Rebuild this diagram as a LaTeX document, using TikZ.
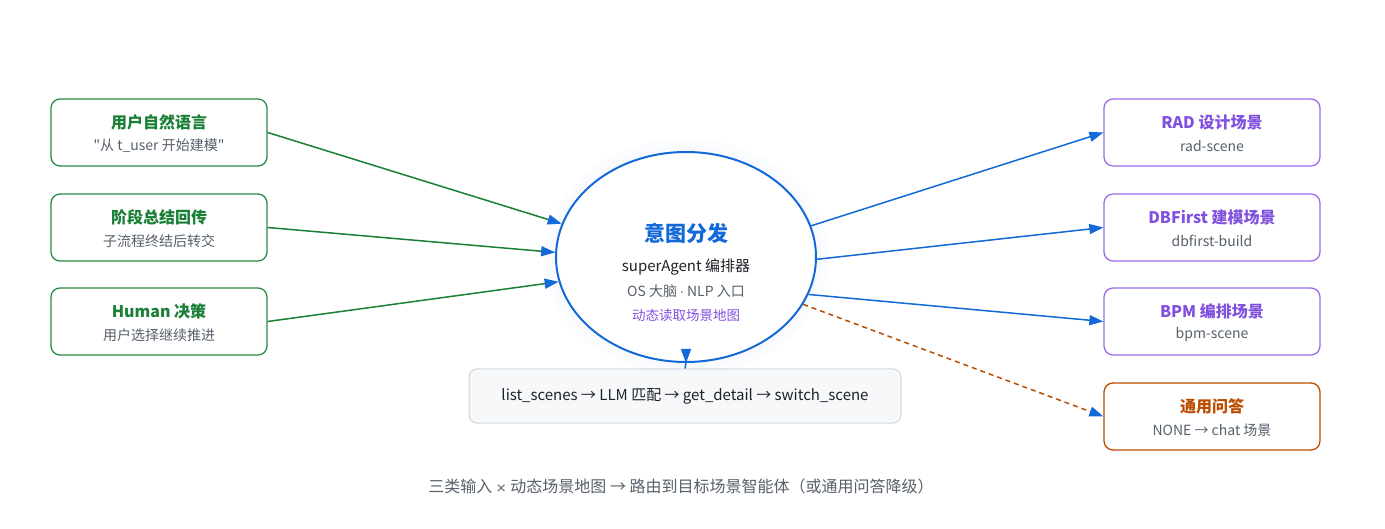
\documentclass[tikz,border=0pt]{standalone}
\usepackage{fontspec}
\setmainfont{Noto Sans CJK SC}[Ligatures=TeXOff]
\newfontfamily\symfont{DejaVu Sans}
\usetikzlibrary{shapes.geometric,arrows.meta}
\definecolor{cgreen}{HTML}{1A7F37}
\definecolor{cgreenb}{HTML}{2A8A45}
\definecolor{cpurple}{HTML}{8250DF}
\definecolor{cpurpleb}{HTML}{9B6BE8}
\definecolor{corange}{HTML}{BC4C00}
\definecolor{cblue}{HTML}{1469D8}
\definecolor{cgray}{HTML}{57606A}
\definecolor{cdark}{HTML}{1F2328}
\definecolor{cboxfill}{HTML}{F6F8FA}
\definecolor{cboxline}{HTML}{D0D7DE}
\tikzset{
  card/.style={draw, line width=1.3pt, rounded corners=9pt, minimum width=216pt, minimum height=67pt, fill=white, inner sep=0pt},
  ttl/.style={font=\fontsize{16}{18}\selectfont\bfseries},
  sub/.style={font=\fontsize{14}{16}\selectfont, text=cgray},
  tip/.style={-{Triangle[length=14pt,width=10pt,color=cblue]}},
  gline/.style={draw=cgreen, line width=1.5pt, tip},
  bline/.style={draw=cblue, line width=1.5pt, tip},
  oline/.style={draw=corange, line width=1.5pt, dash pattern=on 5pt off 4pt, tip},
}
\begin{document}
\begin{tikzpicture}[x=1pt,y=-1pt]
\useasboundingbox[fill=white] (0,0) rectangle (1385,529);
% halo
\fill[cblue!2] (686,257) ellipse [x radius=142, y radius=118];
\fill[cblue!3] (686,257) ellipse [x radius=136, y radius=111];
% center ellipse
\node[ellipse, draw=cblue, line width=2pt, fill=white, minimum width=260pt, minimum height=210pt, inner sep=0pt] (c) at (686,257) {};
\node[font=\fontsize{21}{24}\selectfont\bfseries, text=cblue] (c1) at (686,233) {意图分发};
\node[font=\fontsize{15}{18}\selectfont, text=cdark] (c2) at (686,267) {superAgent 编排器};
\node[font=\fontsize{14}{16}\selectfont, text=cgray] (c3) at (686,291) {OS 大脑 {\symfont\fontsize{12}{14}\selectfont·} NLP 入口};
\node[font=\fontsize{13.5}{16}\selectfont, text=cpurple] (c4) at (686,315) {动态读取场景地图};
% left cards
\node[card, draw=cgreenb] (l1) at (159,132.5) {};
\node[ttl, text=cgreen] at (159,122) {用户自然语言};
\node[sub] at (159,146) {"从 t\_user 开始建模"};
\node[card, draw=cgreenb] (l2) at (159,227.5) {};
\node[ttl, text=cgreen] at (159,217) {阶段总结回传};
\node[sub] at (159,241) {子流程终结后转交};
\node[card, draw=cgreenb] (l3) at (159,321.5) {};
\node[ttl, text=cgreen] at (159,311) {Human 决策};
\node[sub] at (159,335) {用户选择继续推进};
% right cards
\node[card, draw=cpurpleb] (r1) at (1212,132.5) {};
\node[ttl, text=cpurple] at (1212,122) {RAD 设计场景};
\node[sub] at (1212,146) {rad-scene};
\node[card, draw=cpurpleb] (r2) at (1212,227.5) {};
\node[ttl, text=cpurple] at (1212,217) {DBFirst 建模场景};
\node[sub] at (1212,241) {dbfirst-build};
\node[card, draw=cpurpleb] (r3) at (1212,321.5) {};
\node[ttl, text=cpurple] at (1212,311) {BPM 编排场景};
\node[sub] at (1212,335) {bpm-scene};
\node[card, draw=corange] (r4) at (1212,416.5) {};
\node[ttl, text=corange] at (1212,406) {通用问答};
\node[sub] at (1212,430) {NONE → chat 场景};
% bottom box
\node[draw=cboxline, line width=1pt, fill=cboxfill, rounded corners=8pt, minimum width=432pt, minimum height=54pt, font=\fontsize{15}{18}\selectfont, text=cdark] (b) at (685,396) {list\_scenes → LLM 匹配 → get\_detail → switch\_scene};
% caption
\node[font=\fontsize{16}{18}\selectfont, text=cgray] (cap) at (681,486) {三类输入 {\symfont\fontsize{13}{14}\selectfont ×} 动态场景地图 → 路由到目标场景智能体（或通用问答降级）};
% connectors
\draw[gline] (l1.east) -- (c.165.9);
\draw[gline] (l2.east) -- (c.178.1);
\draw[gline] (l3.east) -- (c.191.5);
\draw[bline] (c.14.5) -- (r1.west);
\draw[bline] (c.-1.8) -- (r2.west);
\draw[bline] (c.-17.6) -- (r3.west);
\draw[oline] (c.-22) -- (r4.west);
\draw[draw=cblue, line width=1.5pt] (c.south) -- (b.north);
\draw[draw=cblue, line width=1.5pt, tip] ([yshift=12pt]c.south) -- (c.south);
\end{tikzpicture}
\end{document}
